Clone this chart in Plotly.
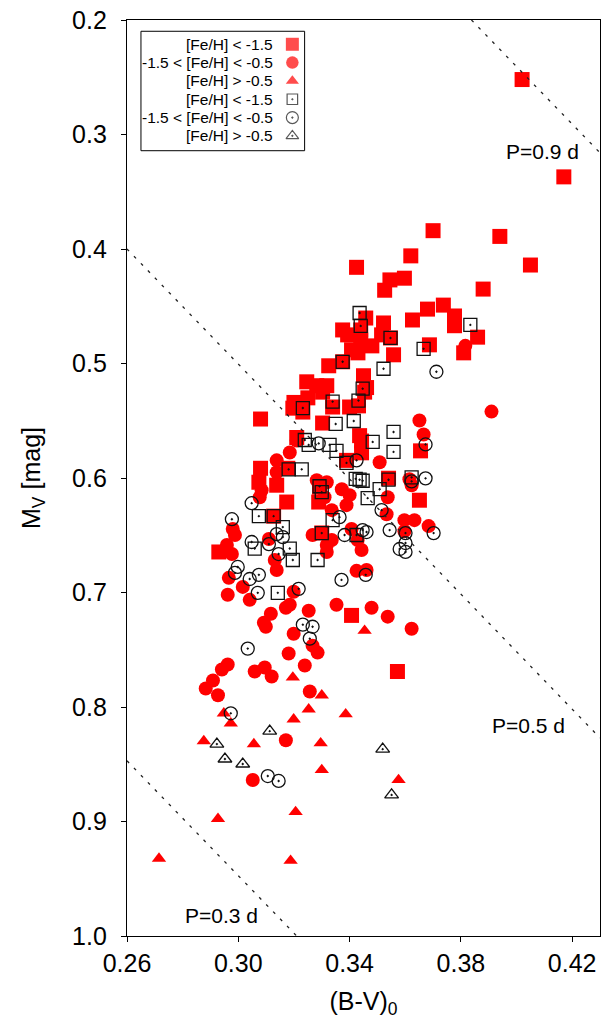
import plotly.graph_objects as go

# (B-V)_0, M_V for each metallicity group; filled red and open black sets
red_squares = [
    (0.402, 0.252), (0.417, 0.337), (0.394, 0.389), (0.405, 0.414), (0.370, 0.384),
    (0.362, 0.406), (0.3425, 0.416), (0.3545, 0.427), (0.3597, 0.4255), (0.3526, 0.436),
    (0.388, 0.435), (0.3737, 0.449), (0.368, 0.4525), (0.3777, 0.4585), (0.3626, 0.462),
    (0.3777, 0.467), (0.386, 0.477), (0.3458, 0.4603), (0.3375, 0.4707), (0.3393, 0.475),
    (0.3522, 0.4646), (0.3515, 0.475), (0.344, 0.4707), (0.344, 0.4794), (0.3407, 0.488),
    (0.343, 0.4907), (0.348, 0.4846), (0.3558, 0.4924), (0.3547, 0.4777), (0.3687, 0.4837),
    (0.381, 0.4907), (0.3325, 0.502), (0.3375, 0.4985), (0.3246, 0.516), (0.3318, 0.5194),
    (0.345, 0.5107), (0.3461, 0.521), (0.3282, 0.5194), (0.320, 0.534), (0.308, 0.5485),
    (0.3232, 0.5424), (0.3196, 0.539), (0.325, 0.530), (0.3303, 0.525), (0.3339, 0.538),
    (0.340, 0.538), (0.3432, 0.537), (0.3454, 0.525), (0.3303, 0.552), (0.3443, 0.5677),
    (0.3443, 0.578), (0.3655, 0.5763), (0.308, 0.5915), (0.3074, 0.6037), (0.3138, 0.6063),
    (0.3178, 0.5915), (0.354, 0.6002), (0.3651, 0.6194), (0.3292, 0.608), (0.3289, 0.621),
    (0.3174, 0.621), (0.3127, 0.6333), (0.330, 0.648), (0.3407, 0.720), (0.3572, 0.769),
    (0.293, 0.6646), (0.321, 0.5646), (0.3436, 0.563), (0.3389, 0.5846),
]

red_circles = [
    (0.391, 0.542), (0.3816, 0.4846), (0.3651, 0.5498), (0.3666, 0.562), (0.3508, 0.5863),
    (0.3615, 0.6011), (0.3623, 0.6063), (0.3537, 0.6168), (0.3533, 0.6316), (0.3597, 0.6368),
    (0.3633, 0.6368), (0.3684, 0.642), (0.3597, 0.6464), (0.321, 0.5672), (0.3185, 0.5777),
    (0.3138, 0.5846), (0.3138, 0.595), (0.3084, 0.6107), (0.3077, 0.6168), (0.3282, 0.602),
    (0.3318, 0.6037), (0.3372, 0.6098), (0.340, 0.615), (0.3389, 0.6237), (0.3336, 0.6281),
    (0.331, 0.6168), (0.3407, 0.6446), (0.3429, 0.6542), (0.3443, 0.6629), (0.3336, 0.6542),
    (0.3318, 0.6585), (0.3267, 0.6498), (0.3318, 0.6646), (0.298, 0.6446), (0.2988, 0.6498),
    (0.2959, 0.6585), (0.2977, 0.6664), (0.311, 0.6533), (0.3131, 0.6716), (0.3138, 0.6803),
    (0.3425, 0.6811), (0.3461, 0.6803), (0.2966, 0.6872), (0.3016, 0.6951), (0.2962, 0.702),
    (0.3041, 0.7064), (0.3199, 0.6994), (0.3479, 0.7133), (0.3353, 0.7107), (0.3253, 0.7159),
    (0.3171, 0.7133), (0.3185, 0.7107), (0.3117, 0.7185), (0.3092, 0.7264), (0.3099, 0.7299),
    (0.3199, 0.736), (0.3267, 0.7464), (0.3285, 0.7525), (0.3181, 0.7533), (0.3239, 0.7638),
    (0.2962, 0.7629), (0.2941, 0.7673), (0.3059, 0.769), (0.3095, 0.7655), (0.312, 0.7733),
    (0.2909, 0.7768), (0.2883, 0.7838), (0.2927, 0.7898), (0.3257, 0.7864), (0.3623, 0.7316),
    (0.3537, 0.7211), (0.3171, 0.829), (0.3052, 0.8637),
]

red_triangles = [
    (0.3196, 0.7742), (0.330, 0.7898), (0.3253, 0.802), (0.3199, 0.8107), (0.3386, 0.8063),
    (0.2948, 0.8055), (0.2973, 0.8142), (0.2876, 0.8298), (0.3056, 0.8324), (0.3296, 0.8316),
    (0.330, 0.855), (0.3576, 0.8637), (0.3454, 0.7333), (0.3206, 0.8916), (0.2927, 0.8977),
    (0.2715, 0.9324), (0.3188, 0.9342),
]

open_squares = [
    (0.3436, 0.4559), (0.344, 0.4672), (0.3547, 0.4777), (0.3666, 0.4872), (0.3834, 0.4663),
    (0.3522, 0.5046), (0.3375, 0.4985), (0.3447, 0.522), (0.3339, 0.5333), (0.3432, 0.5324),
    (0.3232, 0.5389), (0.335, 0.5528), (0.3415, 0.5502), (0.3239, 0.5668), (0.3253, 0.5711),
    (0.3328, 0.5711), (0.3353, 0.5763), (0.3483, 0.5685), (0.3558, 0.5598), (0.3558, 0.5772),
    (0.3389, 0.5868), (0.3422, 0.6007), (0.3436, 0.6015), (0.3447, 0.6024), (0.354, 0.6015),
    (0.3623, 0.5994), (0.3508, 0.6098), (0.3465, 0.6176), (0.3292, 0.6072), (0.330, 0.6124),
    (0.3181, 0.5924), (0.3228, 0.5924), (0.3074, 0.6333), (0.3127, 0.6333), (0.316, 0.6429),
    (0.3339, 0.6368), (0.330, 0.6481), (0.3425, 0.6498), (0.3059, 0.6616), (0.3185, 0.6616),
    (0.3196, 0.6716), (0.3285, 0.6716), (0.3142, 0.7003),
]

open_circles = [
    (0.3712, 0.5072), (0.3673, 0.5707), (0.3425, 0.5846), (0.3289, 0.5698), (0.3623, 0.6029),
    (0.3673, 0.6003), (0.3515, 0.6281), (0.3544, 0.6455), (0.3601, 0.6481), (0.3702, 0.6481),
    (0.3601, 0.6568), (0.358, 0.662), (0.3601, 0.6646), (0.3048, 0.622), (0.2977, 0.636),
    (0.3364, 0.6342), (0.3382, 0.6498), (0.3447, 0.6455), (0.3461, 0.6472), (0.3048, 0.6559),
    (0.311, 0.6577), (0.3138, 0.649), (0.316, 0.6516), (0.3145, 0.6664), (0.2998, 0.6777),
    (0.2988, 0.6829), (0.3041, 0.6882), (0.3074, 0.6846), (0.307, 0.7003), (0.3217, 0.6968),
    (0.3371, 0.689), (0.3458, 0.6846), (0.3232, 0.7281), (0.3267, 0.7299), (0.3257, 0.7403),
    (0.3034, 0.749), (0.2973, 0.8055), (0.3106, 0.8603), (0.3145, 0.8646),
]

open_triangles = [
    (0.2923, 0.8324), (0.3113, 0.8211), (0.2952, 0.8454), (0.3016, 0.8498),
    (0.3551, 0.8768), (0.3519, 0.8368),
]

# Lines of constant period: end points in (B-V)_0, M_V
period_lines = {
    "P=0.9 d": ([0.3838, 0.43], [0.200, 0.316]),
    "P=0.5 d": ([0.26, 0.43], [0.400, 0.827]),
    "P=0.3 d": ([0.26, 0.321], [0.847, 1.000]),
}
period_label_pos = {
    "P=0.9 d": (0.4093, 0.315),
    "P=0.5 d": (0.4042, 0.816),
    "P=0.3 d": (0.294, 0.982),
}

legend_labels = [
    "[Fe/H] &lt; -1.5",
    "-1.5 &lt; [Fe/H] &lt; -0.5",
    "[Fe/H] &gt; -0.5",
    "[Fe/H] &lt; -1.5",
    "-1.5 &lt; [Fe/H] &lt; -0.5",
    "[Fe/H] &gt; -0.5",
]

x_ticks = [0.26, 0.30, 0.34, 0.38, 0.42]
y_ticks = [0.2, 0.3, 0.4, 0.5, 0.6, 0.7, 0.8, 0.9, 1.0]

RED = "#ff0000"
INK = "#111111"
FONT = "Liberation Sans, Arial, Helvetica, sans-serif"

fig = go.Figure()


def add_group(points, symbol, size, color, open_marker):
    xs, ys = zip(*points)
    marker = dict(symbol=symbol, size=size, color=color)
    if open_marker:
        marker["line"] = dict(color=color, width=1.3)
    else:
        marker["line"] = dict(width=0)
    fig.add_trace(go.Scatter(x=list(xs), y=list(ys), mode="markers",
                             marker=marker, showlegend=False, hoverinfo="x+y"))


add_group(red_squares, "square", 15, RED, False)
add_group(red_circles, "circle", 14, RED, False)
add_group(red_triangles, "triangle-up", 12.5, RED, False)
add_group(open_squares, "square-open-dot", 13, INK, True)
add_group(open_circles, "circle-open-dot", 13, INK, True)
add_group(open_triangles, "triangle-up-open-dot", 12, INK, True)

for name, (lx, ly) in period_lines.items():
    fig.add_trace(go.Scatter(x=lx, y=ly, mode="lines",
                             line=dict(color="#222222", width=1.3, dash="3px,7px"),
                             showlegend=False, hoverinfo="skip"))
    px_, py_ = period_label_pos[name]
    fig.add_annotation(x=px_, y=py_, text=name, showarrow=False,
                       font=dict(family=FONT, size=21, color="black"),
                       xanchor="center", yanchor="middle")

# Key box in the upper left: labels right-aligned, symbols to their right
box_x0, box_x1, box_y0, box_y1 = 0.0295, 0.3755, 0.8573, 0.9877
text_x, sym_x = 0.3137, 0.3496
row_y = [0.9735, 0.9535, 0.9335, 0.9135, 0.8935, 0.8735]
key_symbols = ["square", "circle", "triangle-up",
               "square-open-dot", "circle-open-dot", "triangle-up-open-dot"]
key_colors = [RED, RED, RED, INK, INK, INK]
key_sizes = [13, 12.5, 11.5, 10.5, 12, 11]
key_lw = [0, 0, 0, 1.2, 1.2, 1.2]

fig.add_shape(type="rect", xref="paper", yref="paper",
              x0=box_x0, x1=box_x1, y0=box_y0, y1=box_y1,
              line=dict(color="black", width=1), fillcolor="white", layer="below")
for lab, yy in zip(legend_labels, row_y):
    fig.add_annotation(xref="paper", yref="paper", x=text_x, y=yy, text=lab,
                       showarrow=False, xanchor="right", yanchor="middle",
                       font=dict(family=FONT, size=15.5, color="black"))
fig.add_trace(go.Scatter(
    x=[sym_x] * 6, y=row_y, xaxis="x2", yaxis="y2", mode="markers",
    marker=dict(symbol=key_symbols, color=key_colors, size=key_sizes,
                line=dict(color=key_colors, width=key_lw)),
    showlegend=False, hoverinfo="skip", cliponaxis=False))

axis_common = dict(
    showline=True, mirror=True, linecolor="black", linewidth=1.3,
    ticks="outside", ticklen=5, tickwidth=1.3, tickcolor="black",
    showgrid=False, zeroline=False,
    tickfont=dict(family=FONT, size=25, color="black"),
)

fig.update_layout(
    width=607, height=1026,
    margin=dict(l=127, r=6, t=16, b=90, pad=0),
    paper_bgcolor="white", plot_bgcolor="white",
    font=dict(family=FONT, color="black"),
    xaxis=dict(range=[0.26, 0.43], tickvals=x_ticks, tickformat=".2f",
               title=dict(text="(B-V)<sub>0</sub>", font=dict(size=25), standoff=16),
               **axis_common),
    yaxis=dict(range=[1.0, 0.2], tickvals=y_ticks, tickformat=".1f",
               ticklabelstandoff=9,
               title=dict(text="M<sub>V</sub> [mag]", font=dict(size=25), standoff=24),
               **axis_common),
    xaxis2=dict(range=[0, 1], overlaying="x", anchor="y2", visible=False),
    yaxis2=dict(range=[0, 1], overlaying="y", anchor="x2", visible=False),
)

fig.write_html("out.html")
